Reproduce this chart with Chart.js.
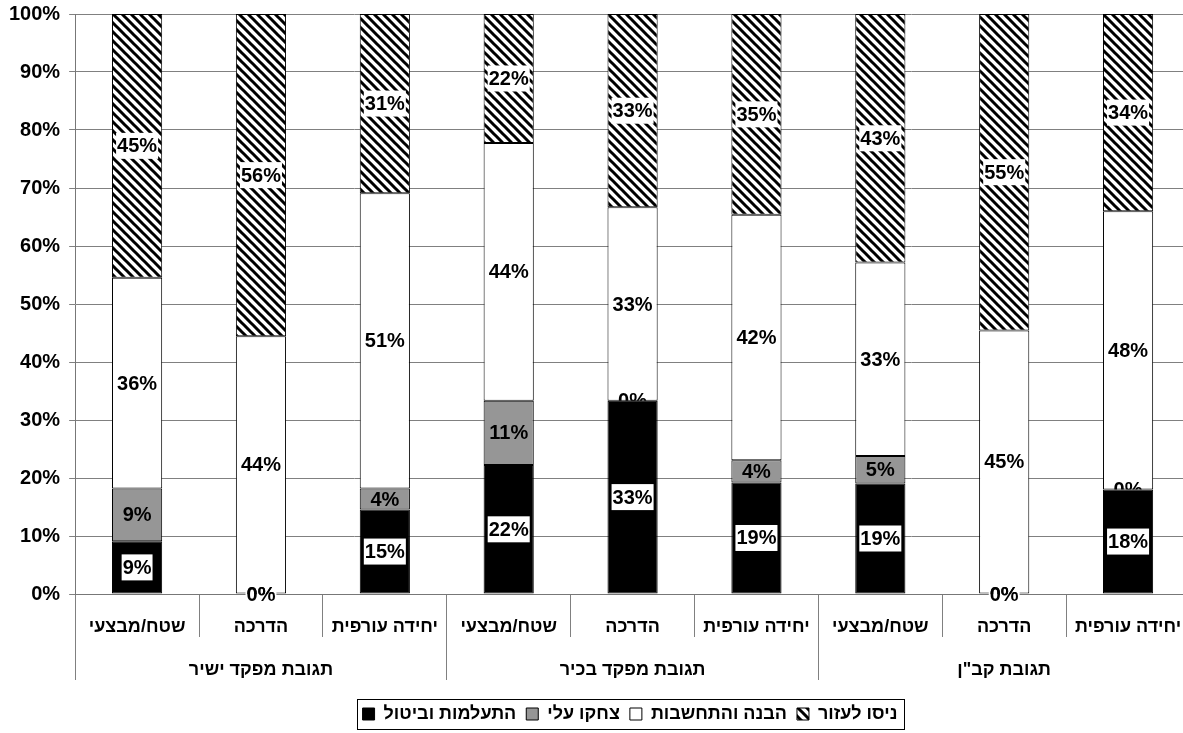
<!DOCTYPE html>
<html>
<head>
<meta charset="utf-8">
<script src="https://cdn.jsdelivr.net/npm/chart.js@4.4.1/dist/chart.umd.min.js"></script>
<style>
  html, body { margin: 0; padding: 0; background: #fff; overflow: hidden; }
  #wrap { width: 1192px; height: 733px; }
</style>
</head>
<body>
<div id="wrap"><canvas id="chart"></canvas></div>
<script>
const categories = ['שטח/מבצעי', 'הדרכה', 'יחידה עורפית', 'שטח/מבצעי', 'הדרכה', 'יחידה עורפית', 'שטח/מבצעי', 'הדרכה', 'יחידה עורפית']
const groups = ['תגובת מפקד ישיר', 'תגובת מפקד בכיר', 'תגובת קב"ן']
const seriesNames = ['התעלמות וביטול', 'צחקו עלי', 'הבנה והתחשבות', 'ניסו לעזור']

// percent of answers per bar
const ignored = [9.09, 0, 14.55, 22.22, 33.33, 19.23, 19.05, 0, 18]
const mocked = [9.09, 0, 3.64, 11.11, 0, 3.85, 4.76, 0, 0]
const understood = [36.36, 44.44, 50.91, 44.44, 33.33, 42.31, 33.33, 45.45, 48]
const helped = [45.45, 55.56, 30.91, 22.22, 33.33, 34.62, 42.86, 54.55, 34]

const FONT = '"Liberation Sans", Arial, sans-serif'

function hatch() {
  const c = document.createElement('canvas')
  c.width = 9
  c.height = 9
  const g = c.getContext('2d')
  g.fillStyle = '#fff'
  g.fillRect(0, 0, 9, 9)
  g.strokeStyle = '#000'
  g.lineWidth = 3
  g.beginPath()
  g.moveTo(-2, -2); g.lineTo(11, 11)
  g.moveTo(-2, 7); g.lineTo(2, 11)
  g.moveTo(7, -2); g.lineTo(11, 2)
  g.stroke()
  return g.createPattern(c, 'repeat')
}

// value labels in the middle of every segment
const barLabels = {
  id: 'barLabels',
  afterDatasetsDraw(chart) {
    const ctx = chart.ctx
    ctx.save()
    ctx.font = 'bold 20px ' + FONT
    ctx.textAlign = 'center'
    ctx.textBaseline = 'middle'
    chart.data.datasets.forEach((ds, i) => {
      chart.getDatasetMeta(i).data.forEach((bar, j) => {
        const v = ds.data[j]
        const text = Math.round(v) + '%'
        const y = (bar.y + bar.base) / 2
        ctx.save()
        if (v === 0 && i === 1) {
          // the empty grey segment label hides behind the black bar
          ctx.beginPath()
          ctx.rect(bar.x - 40, chart.chartArea.top, 80, bar.base - chart.chartArea.top)
          ctx.clip()
        }
        if (ds.labelBox) {
          const w = ctx.measureText(text).width + 2
          ctx.fillStyle = '#fff'
          ctx.fillRect(bar.x - w / 2, y - 13, w, 26)
        }
        ctx.fillStyle = '#000'
        ctx.fillText(text, bar.x, y + 1)
        ctx.restore()
      })
    })
    ctx.restore()
  }
}

const legendFrame = {
  id: 'legendFrame',
  afterLayout(chart) {
    // legend sits a bit right of centre in the original
    chart.legend.left += 35
    chart.legend.right += 35
  },
  afterDraw(chart) {
    const boxes = chart.legend.legendHitBoxes
    if (!boxes || !boxes.length) return
    const left = Math.min(...boxes.map(b => b.left)) - 6
    const right = Math.max(...boxes.map(b => b.left + b.width)) + 6
    const top = Math.min(...boxes.map(b => b.top)) - 6
    const bottom = Math.max(...boxes.map(b => b.top + b.height)) + 6
    const ctx = chart.ctx
    ctx.save()
    ctx.strokeStyle = '#000'
    ctx.lineWidth = 1
    ctx.strokeRect(Math.round(left) + 0.5, Math.round(top) + 0.5, Math.round(right - left), Math.round(bottom - top))
    ctx.restore()
  }
}

const pattern = hatch()

new Chart(document.getElementById('chart'), {
  type: 'bar',
  data: {
    labels: categories,
    datasets: [
      { label: seriesNames[0], data: ignored, backgroundColor: '#000', labelBox: true },
      { label: seriesNames[1], data: mocked, backgroundColor: '#969696', labelBox: false },
      { label: seriesNames[2], data: understood, backgroundColor: '#fff', labelBox: false },
      { label: seriesNames[3], data: helped, backgroundColor: pattern, labelBox: true }
    ].map(d => Object.assign(d, {
      borderColor: '#000',
      borderWidth: 1,
      borderSkipped: false,
      barPercentage: 0.405,
      categoryPercentage: 1
    }))
  },
  options: {
    responsive: true,
    maintainAspectRatio: false,
    animation: false,
    layout: { padding: { top: 14, left: 0, right: 2, bottom: 0 } },
    plugins: {
      legend: {
        position: 'bottom',
        labels: {
          color: '#000',
          font: { family: FONT, size: 18, weight: 'bold' },
          boxWidth: 12,
          boxHeight: 12,
          padding: 10
        }
      },
      tooltip: { enabled: false }
    },
    scales: {
      x: {
        stacked: true,
        offset: true,
        grid: { offset: true, drawOnChartArea: false, tickLength: 43, color: '#808080' },
        border: { color: '#777' },
        ticks: {
          color: '#000',
          font: { family: FONT, size: 18, weight: 'bold' },
          padding: -21,
          maxRotation: 0,
          minRotation: 0,
          autoSkip: false
        },
        afterFit: s => { s.height = 43 }
      },
      x2: {
        type: 'category',
        position: 'bottom',
        labels: groups,
        offset: true,
        grid: { offset: true, drawOnChartArea: false, tickLength: 43, color: '#808080' },
        border: { display: false },
        ticks: {
          color: '#000',
          font: { family: FONT, size: 18, weight: 'bold' },
          padding: -21,
          maxRotation: 0,
          minRotation: 0,
          autoSkip: false
        },
        afterFit: s => { s.height = 58 }
      },
      y: {
        stacked: true,
        min: 0,
        max: 100,
        ticks: {
          stepSize: 10,
          color: '#000',
          padding: 9,
          font: { family: FONT, size: 20, weight: 'bold' },
          callback: v => v + '%'
        },
        grid: { color: '#808080', tickLength: 6 },
        border: { color: '#777' },
        afterFit: s => { s.paddingTop = 0; s.paddingBottom = 0 }
      }
    }
  },
  plugins: [barLabels, legendFrame]
})
</script>
</body>
</html>
